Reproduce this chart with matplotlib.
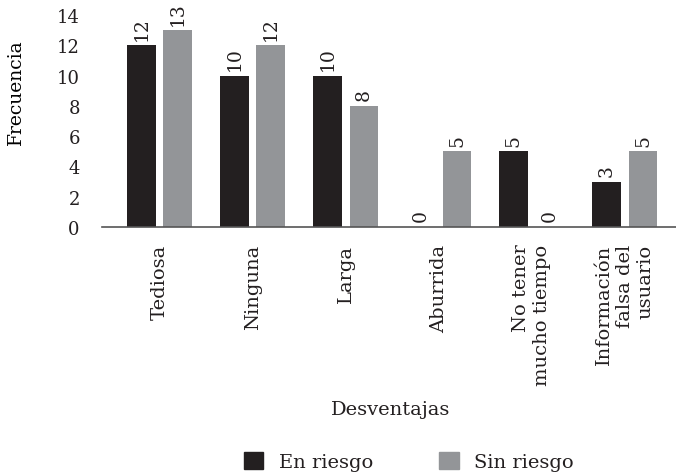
import numpy as np
import matplotlib.pyplot as plt
from matplotlib.patches import Patch

# datos
categorias = ['Tediosa', 'Ninguna', 'Larga', 'Aburrida',
              'No tener\nmucho tiempo', 'Información\nfalsa del\nusuario']
en_riesgo = [12, 10, 10, 0, 5, 3]
sin_riesgo = [13, 12, 8, 5, 0, 5]
series = ['En riesgo', 'Sin riesgo']

color_en = '#231f20'
color_sin = '#939598'

plt.rcParams['font.family'] = ['DejaVu Serif']
plt.rcParams['text.color'] = '#231f20'

fig = plt.figure(figsize=(6.76, 4.77), dpi=100)
ax = fig.add_axes([0.151, 0.522, 0.849, 0.444])

x = np.arange(len(categorias))
w = 0.31
off = 0.195
b1 = ax.bar(x - off, en_riesgo, w, color=color_en)
b2 = ax.bar(x + off, sin_riesgo, w, color=color_sin)

for bars, vals in [(b1, en_riesgo), (b2, sin_riesgo)]:
    for b, v in zip(bars, vals):
        ax.annotate(str(v), (b.get_x() + b.get_width() / 2, v),
                    xytext=(0, 4), textcoords='offset points',
                    rotation=90, ha='center', va='bottom',
                    fontsize=13.5, color='#231f20', annotation_clip=False)

ax.set_xlim(-0.62, 5.55)
ax.set_ylim(0, 14)
ax.set_yticks(np.arange(0, 15, 2))
ax.set_xticks(x)
ax.set_xticklabels(categorias, rotation=90, va='top', ha='center',
                   multialignment='right', fontsize=14)
ax.tick_params(axis='both', length=0, colors='#231f20')
ax.tick_params(axis='y', labelsize=13, pad=16)
ax.tick_params(axis='x', pad=12)

for s in ['top', 'right', 'left']:
    ax.spines[s].set_visible(False)
ax.spines['bottom'].set_color('#555555')
ax.spines['bottom'].set_linewidth(1.2)

ax.set_ylabel('Frecuencia', fontsize=13.5)
ax.yaxis.set_label_coords(-0.134, 0.64)
fig.text(0.578, 0.140, 'Desventajas', ha='center', va='center', fontsize=14)

handles = [Patch(color=color_en), Patch(color=color_sin)]
fig.legend(handles, series, loc='center', bbox_to_anchor=(0.605, 0.03),
           ncol=2, frameon=False, fontsize=14, handlelength=1.0,
           handleheight=1.0, handletextpad=0.8, columnspacing=3.4)

plt.savefig('out.png', dpi=100)
